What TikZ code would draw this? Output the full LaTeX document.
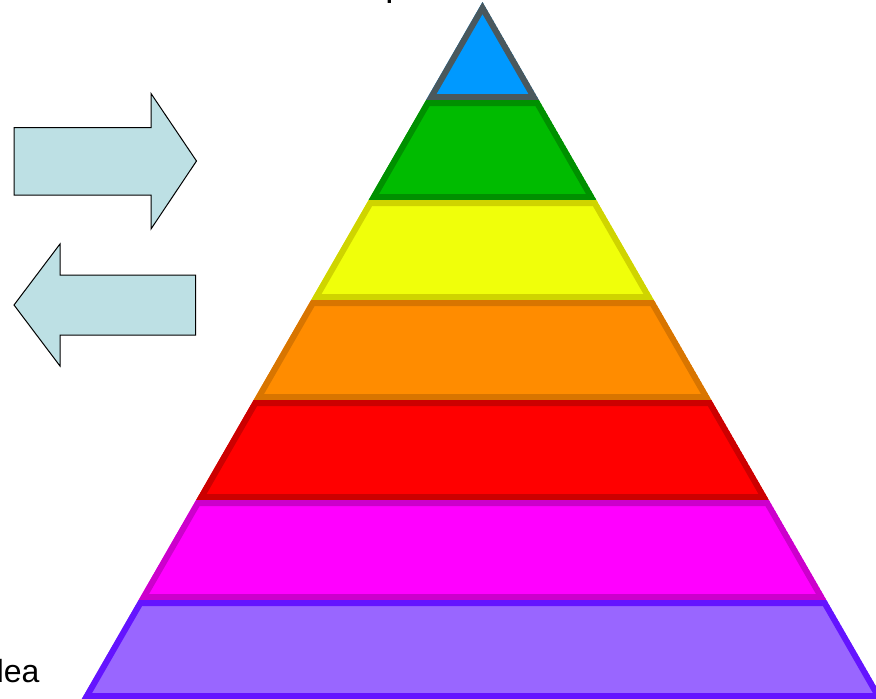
\documentclass[tikz,border=0pt]{standalone}
\usepackage{fontspec}
\setmainfont{Liberation Sans}
\definecolor{blfill}{HTML}{0099FF}
\definecolor{blbord}{HTML}{4A585D}
\definecolor{grfill}{HTML}{00BB00}
\definecolor{grbord}{HTML}{009000}
\definecolor{yefill}{HTML}{F0FF0A}
\definecolor{yebord}{HTML}{CFD400}
\definecolor{orfill}{HTML}{FF8C00}
\definecolor{orbord}{HTML}{D87500}
\definecolor{refill}{HTML}{FF0000}
\definecolor{rebord}{HTML}{CC0000}
\definecolor{mafill}{HTML}{FF00FF}
\definecolor{mabord}{HTML}{CC00CC}
\definecolor{pufill}{HTML}{9966FF}
\definecolor{pubord}{HTML}{6414FF}
\definecolor{arfill}{HTML}{BDE0E4}
\begin{document}
\begin{tikzpicture}[x=1pt,y=-1pt,
  arrowst/.style={draw=black, line width=1pt, fill=arfill, line join=miter},
  layerst/.style={line width=12pt, line join=miter}]
\useasboundingbox (0,0) rectangle (876,699);
% top triangle
\begin{scope}
  \clip (482.5,2) -- (538.9,100) -- (426.1,100) -- cycle;
  \draw[layerst, draw=blbord, fill=blfill] (482.5,2) -- (538.9,100) -- (426.1,100) -- cycle;
\end{scope}
% layers
\foreach \t/\b/\f/\c in {100/200/grfill/grbord, 200/300/yefill/yebord, 300/400/orfill/orbord, 400/500/refill/rebord, 500/600/mafill/mabord, 600/699/pufill/pubord}{
  \pgfmathsetmacro\ltx{482.5-(\t-2)*0.575}
  \pgfmathsetmacro\rtx{482.5+(\t-2)*0.575}
  \pgfmathsetmacro\lbx{482.5-(\b-2)*0.575}
  \pgfmathsetmacro\rbx{482.5+(\b-2)*0.575}
  \begin{scope}
    \clip (\ltx,\t) -- (\rtx,\t) -- (\rbx,\b) -- (\lbx,\b) -- cycle;
    \draw[layerst, draw=\c, fill=\f] (\ltx,\t) -- (\rtx,\t) -- (\rbx,\b) -- (\lbx,\b) -- cycle;
  \end{scope}
}
% arrows
\draw[arrowst] (14,127.5) -- (151,127.5) -- (151,93.5) -- (196.5,161) -- (151,229) -- (151,195) -- (14,195) -- cycle;
\draw[arrowst] (14,305) -- (60,244) -- (60,275) -- (195.5,275) -- (195.5,335) -- (60,335) -- (60,366) -- cycle;
% texts (clipped by the page)
\node[anchor=base west, font=\fontsize{32}{38}\selectfont, inner sep=0pt] (idea) at (-23,682) {Idea};
\node[anchor=base west, font=\fontsize{24}{28}\selectfont\bfseries, inner sep=0pt] (ttl) at (386,-1.5) {p};
\end{tikzpicture}
\end{document}
